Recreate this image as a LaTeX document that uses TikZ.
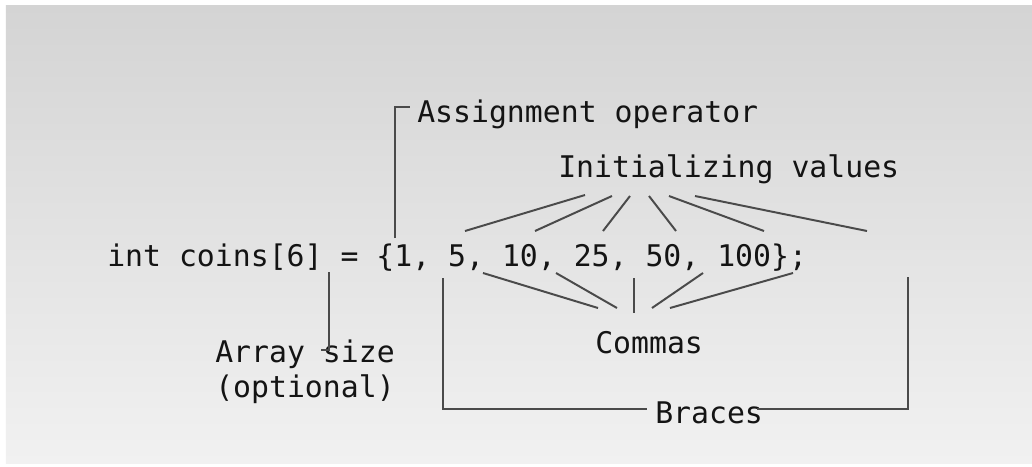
\documentclass[tikz,border=0pt]{standalone}
\usepackage{fontspec}
\setmonofont{DejaVu Sans Mono}
\usetikzlibrary{positioning, calc}

\definecolor{inkgray}{HTML}{141414}
\definecolor{leadgray}{HTML}{4A4A4A}

\begin{document}
\begin{tikzpicture}[
    txt/.style={anchor=base west, inner sep=0pt, text=inkgray, font=\ttfamily\fontsize{21.2}{24.8}\selectfont},
    lead/.style={draw=leadgray, line width=1.4pt}
]

% ================= Background =================

\useasboundingbox (0,0) rectangle (25.8,-11.65);
\fill[white] (0,0) rectangle (25.8,-11.65);
\shade[top color={rgb,255:red,212;green,212;blue,212}, bottom color={rgb,255:red,241;green,241;blue,241}] (0.15,-0.125) rectangle (25.8,-11.575);

% ================= Nodes =================

% The declaration itself
\node[txt] (code) at (2.675, -6.65) {int coins[6] = \{1, 5, 10, 25, 50, 100\};};

% Labels above
\node[txt] (assign) at (10.425, -3.05) {Assignment operator};
\node[txt] (init) at (13.95, -4.425) {Initializing values};

% Labels below (base of a two-line node is its last line)
\node[txt] (commas) at (14.875, -8.825) {Commas};
\node[txt, align=left] (arrsize) at (5.375, -9.925) {Array size\\(optional)};
\node[txt] (braces) at (16.375, -10.575) {Braces};

% ================= Edges =================

% Assignment operator bracket
\coordinate (asg_foot) at (9.875, -5.95);
\coordinate (asg_tip) at (10.25, -2.675);
\draw[lead] (asg_foot) |- (asg_tip);

% Array size bracket
\coordinate (arr_top) at (8.225, -6.8);
\coordinate (arr_tip) at (8.025, -8.75);
\draw[lead] (arr_top) |- (arr_tip);

% Braces bracket
\coordinate (br_left) at (11.075, -6.95);
\coordinate (br_lend) at (16.175, -10.225);
\coordinate (br_rend) at (18.925, -10.225);
\coordinate (br_right) at (22.7, -6.925);
\draw[lead] (br_left) |- (br_lend);
\draw[lead] (br_rend) -| (br_right);

% Initializing values fan
\foreach \xa/\ya/\xb/\yb [count=\i] in {14.625/-4.875/11.625/-5.775, 15.3/-4.9/13.375/-5.775, 15.75/-4.9/15.075/-5.775, 16.225/-4.9/16.9/-5.775, 16.725/-4.9/19.1/-5.775, 17.375/-4.9/21.675/-5.775} {
    \coordinate (iv\i) at (\xa, \ya);
    \coordinate (val\i) at (\xb, \yb);
    \draw[lead] (iv\i) -- (val\i);
}

% Commas fan
\foreach \xa/\ya/\xb/\yb [count=\i] in {12.075/-6.825/14.95/-7.7, 13.9/-6.825/15.425/-7.7, 15.85/-6.95/15.85/-7.825, 17.575/-6.825/16.3/-7.7, 19.825/-6.825/16.75/-7.7} {
    \coordinate (cm\i) at (\xa, \ya);
    \coordinate (cmtip\i) at (\xb, \yb);
    \draw[lead] (cm\i) -- (cmtip\i);
}

\end{tikzpicture}
\end{document}
